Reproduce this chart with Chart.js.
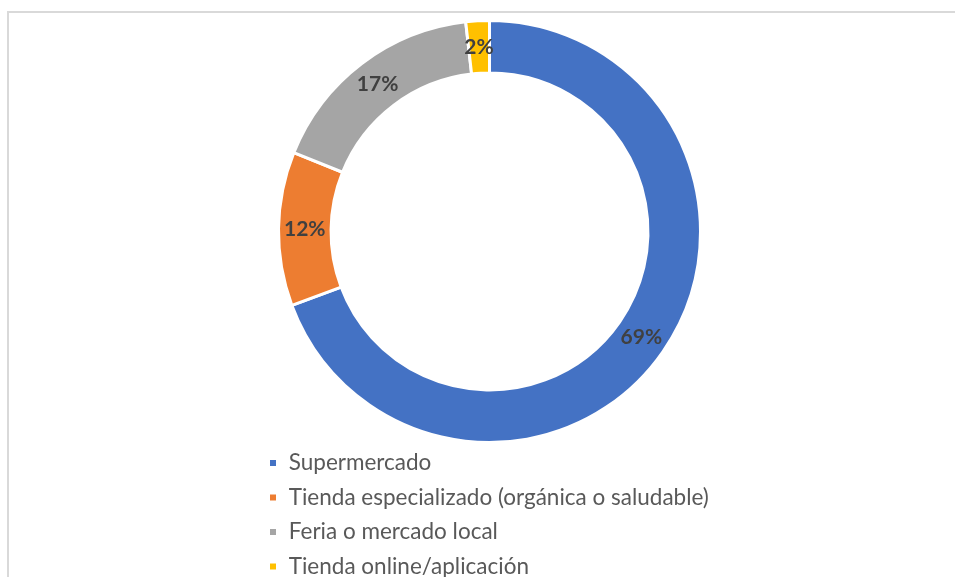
<!DOCTYPE html>
<html>
<head>
<meta charset="utf-8">
<script src="https://cdn.jsdelivr.net/npm/chart.js@4"></script>
<style>
  body { margin: 0; overflow: hidden; background: #fff; }
  #frame {
    position: absolute; left: 7px; top: 11px;
    width: 1000px; height: 700px;
    border-left: 2px solid #d9d9d9; border-top: 2px solid #d9d9d9;
  }
  #wrap { position: absolute; left: 0; top: 0; width: 955px; height: 620px; }
</style>
</head>
<body>
<div id="frame"></div>
<div id="wrap"><canvas id="myChart"></canvas></div>
<script>
let categories = [
  'Supermercado',
  'Tienda especializado (orgánica o saludable)',
  'Feria o mercado local',
  'Tienda online/aplicación'
];
let shares = [69.3, 11.8, 17.1, 1.8];
let colors = ['#4472c4', '#ed7d31', '#a5a5a5', '#ffc000'];

// percent labels drawn in the middle of each ring segment
const pctLabels = {
  id: 'pctLabels',
  afterDatasetsDraw(chart) {
    const ctx = chart.ctx;
    const meta = chart.getDatasetMeta(0);
    ctx.save();
    ctx.font = 'bold 21px Lato';
    ctx.fillStyle = '#404040';
    ctx.textAlign = 'center';
    ctx.textBaseline = 'middle';
    meta.data.forEach((arc, i) => {
      const p = arc.tooltipPosition();
      ctx.fillText(Math.round(shares[i]) + '%', p.x, p.y);
    });
    ctx.restore();
  }
};

const ctx = document.getElementById('myChart').getContext('2d');
const myChart = new Chart(ctx, {
  type: 'doughnut',
  data: {
    labels: categories,
    datasets: [{
      data: shares,
      backgroundColor: colors,
      borderColor: '#ffffff',
      borderWidth: 3,
      radius: 211,
      cutout: '75.1%'
    }]
  },
  options: {
    responsive: true,
    maintainAspectRatio: false,
    animation: false,
    layout: {
      padding: { left: 256.5, right: 232.5, top: 23.25, bottom: 32.25 }
    },
    plugins: {
      tooltip: { enabled: false },
      legend: {
        position: 'bottom',
        align: 'start',
        labels: {
          boxWidth: 9,
          boxHeight: 9,
          padding: 12,
          color: '#595959',
          font: { family: 'Lato', size: 22.5 }
        }
      }
    }
  },
  plugins: [pctLabels]
});
</script>
</body>
</html>
